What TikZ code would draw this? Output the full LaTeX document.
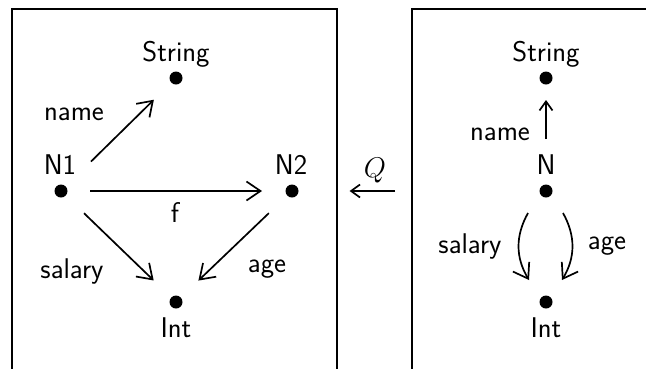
\documentclass[tikz,border=0pt]{standalone}
\usepackage{fix-cm}
\usepackage{fontspec}
\usetikzlibrary{arrows.meta}
\begin{document}
\begin{tikzpicture}[x=1pt,y=-1pt,
  lbl/.style={font=\sffamily\fontsize{28.5}{34}\selectfont, anchor=base, inner sep=0pt},
  dot/.style={circle, fill=black, inner sep=0pt, minimum size=13pt},
  arr/.style={line width=1.7pt, -{Straight Barb[length=14pt,width=19pt,line width=1.7pt]}},
  arrsmall/.style={line width=1.7pt, -{Straight Barb[length=9pt,width=13pt,line width=1.7pt]}},
  frame/.style={draw, line width=1.6pt, inner sep=0pt, anchor=north west}]
\useasboundingbox (0,0) rectangle (646,368);
\clip (0,0) rectangle (646,368);

% the two frames (open towards the bottom of the page)
\node[frame, minimum width=325pt, minimum height=380pt] (F1) at (11,8) {};
\node[frame, minimum width=260pt, minimum height=380pt] (F2) at (411,8) {};

% ---- left graph ----
\node[dot] (S1) at (176,78) {};
\node[dot] (A)  at (61,191) {};
\node[dot] (B)  at (292,191) {};
\node[dot] (I1) at (176,302) {};

\node[lbl] (tS1) at (176,61)  {String};
\node[lbl] (tA)  at (60,174)  {N1};
\node[lbl] (tB)  at (291,174) {N2};
\node[lbl] (tI1) at (176,337) {Int};

\node[lbl] (lname1) at (74,120)  {name};
\node[lbl] (lf)     at (175,222) {f};
\node[lbl] (lsal1)  at (72,278)  {salary};
\node[lbl] (lage1)  at (267,272) {age};

\draw[arr, shorten <=42pt, shorten >=31pt] (A.center) -- (S1.center);
\draw[arr, shorten <=29pt, shorten >=30pt] (A.center) -- (B.center);
\draw[arr, shorten <=32pt, shorten >=31pt] (A.center) -- (I1.center);
\draw[arr, shorten <=32pt, shorten >=31pt] (B.center) -- (I1.center);

% ---- map between the frames ----
\node[lbl] (lQ) at (375,177) {$Q$};
\draw[arrsmall, shorten <=16pt, shorten >=12pt] (F2.west |- B.center) -- (F1.east |- B.center);

% ---- right graph ----
\node[dot] (S2) at (546,78) {};
\node[dot] (C)  at (546,191) {};
\node[dot] (I2) at (546,302) {};

\node[lbl] (tS2) at (546,61)  {String};
\node[lbl] (tC)  at (546,174) {N};
\node[lbl] (tI2) at (546,337) {Int};

\node[lbl] (lname2) at (500,140) {name};
\node[lbl] (lsal2)  at (470,253) {salary};
\node[lbl] (lage2)  at (607,249) {age};

\draw[arrsmall, shorten <=52pt, shorten >=22pt] (C.center) -- (S2.center);
\draw[arr] ([shift={(-18,22)}]C.center) to[bend right=30] ([shift={(-17,-22)}]I2.center);
\draw[arr] ([shift={(17,22)}]C.center) to[bend left=30] ([shift={(16,-22)}]I2.center);
\end{tikzpicture}
\end{document}
